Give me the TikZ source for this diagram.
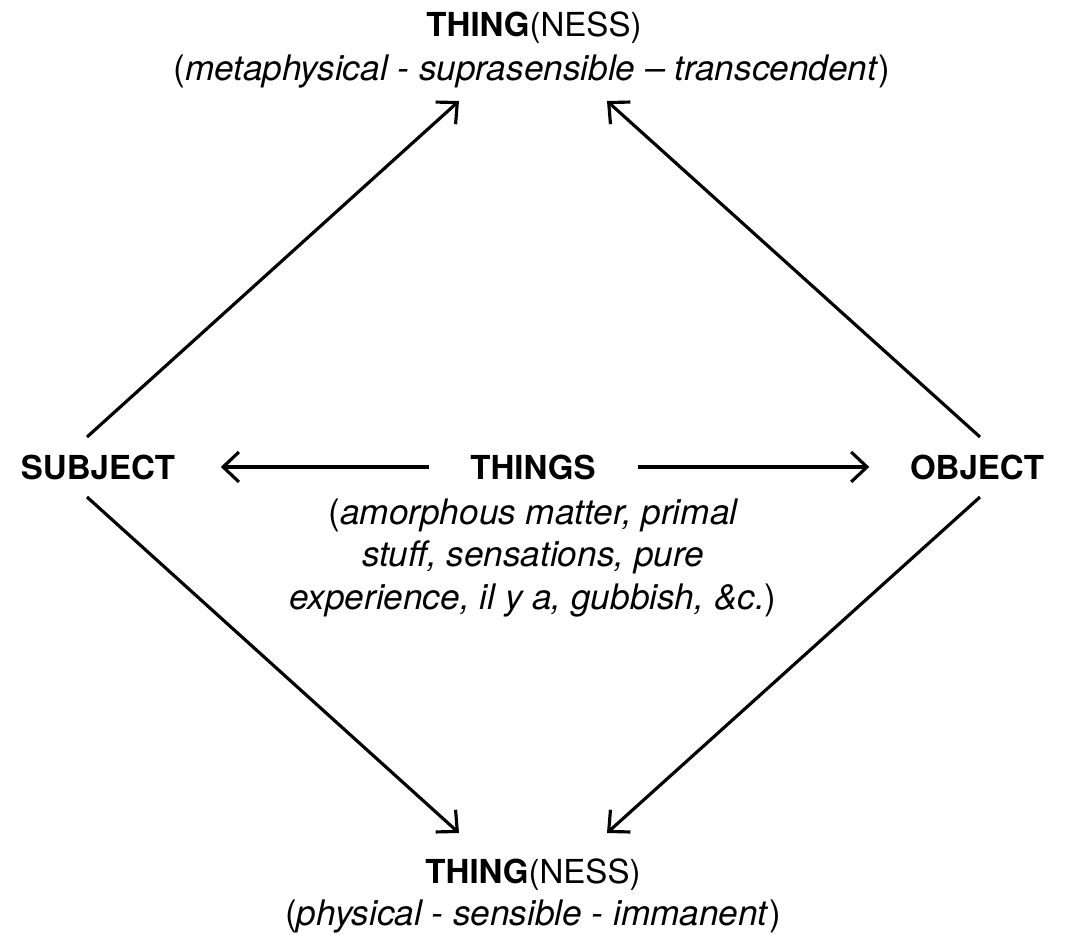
\documentclass[tikz,border=0pt]{standalone}
\usepackage{fontspec}
\setmainfont{TeX Gyre Heros}
\usetikzlibrary{arrows.meta,positioning}
\newcommand*{\up}[1]{\textup{#1}}

\begin{document}
\begin{tikzpicture}[
	head/.style={anchor=base,inner sep=0pt,font=\fontsize{9.4}{11}\selectfont\bfseries},
	gloss/.style={anchor=base,inner sep=0pt,align=center,font=\fontsize{10}{12}\selectfont\itshape},
	arr/.style={-{Straight Barb[length=4.5pt,width=8.5pt]},line width=0.9pt}]

	\useasboundingbox (0,0) rectangle (10.65,9.34);

	\node[head] (top) at (5.34,8.98) {THING\mdseries(NESS)};
	\node[gloss] (topnote) at (5.32,8.54) {\up{(}metaphysical - suprasensible -- transcendent\up{)}};

	\node[head] (subject) at (0.98,4.55) {SUBJECT};
	\node[head] (things) at (5.33,4.55) {THINGS};
	\node[head] (object) at (9.77,4.55) {OBJECT};
	% base of a node of several lines is its last line
	\node[gloss] (thingsnote) at (5.33,3.25) {\up{(}amorphous matter, primal\\stuff, sensations, pure\\experience, il y a, gubbish, \&c.\up{)}};

	\node[head] (bottom) at (5.33,0.51) {THING\mdseries(NESS)};
	\node[gloss] (bottomnote) at (5.33,0.09) {\up{(}physical - sensible - immanent\up{)}};

	% ends of the slanted arrows
	\coordinate (subjUp) at (0.87,4.97);
	\coordinate (subjDown) at (0.87,4.37);
	\coordinate (objUp) at (9.80,4.97);
	\coordinate (objDown) at (9.80,4.37);
	\coordinate (topL) at (4.59,8.33);
	\coordinate (topR) at (6.07,8.33);
	\coordinate (botL) at (4.59,1.01);
	\coordinate (botR) at (6.07,1.01);

	\draw[arr,shorten <=4.1mm,shorten >=4.5mm] (things) -- (subject);
	\draw[arr,shorten <=4.2mm,shorten >=4.0mm] (things) -- (object);

	\draw[arr] (subjUp) -- (topL);
	\draw[arr] (objUp) -- (topR);
	\draw[arr] (subjDown) -- (botL);
	\draw[arr] (objDown) -- (botR);
\end{tikzpicture}
\end{document}
